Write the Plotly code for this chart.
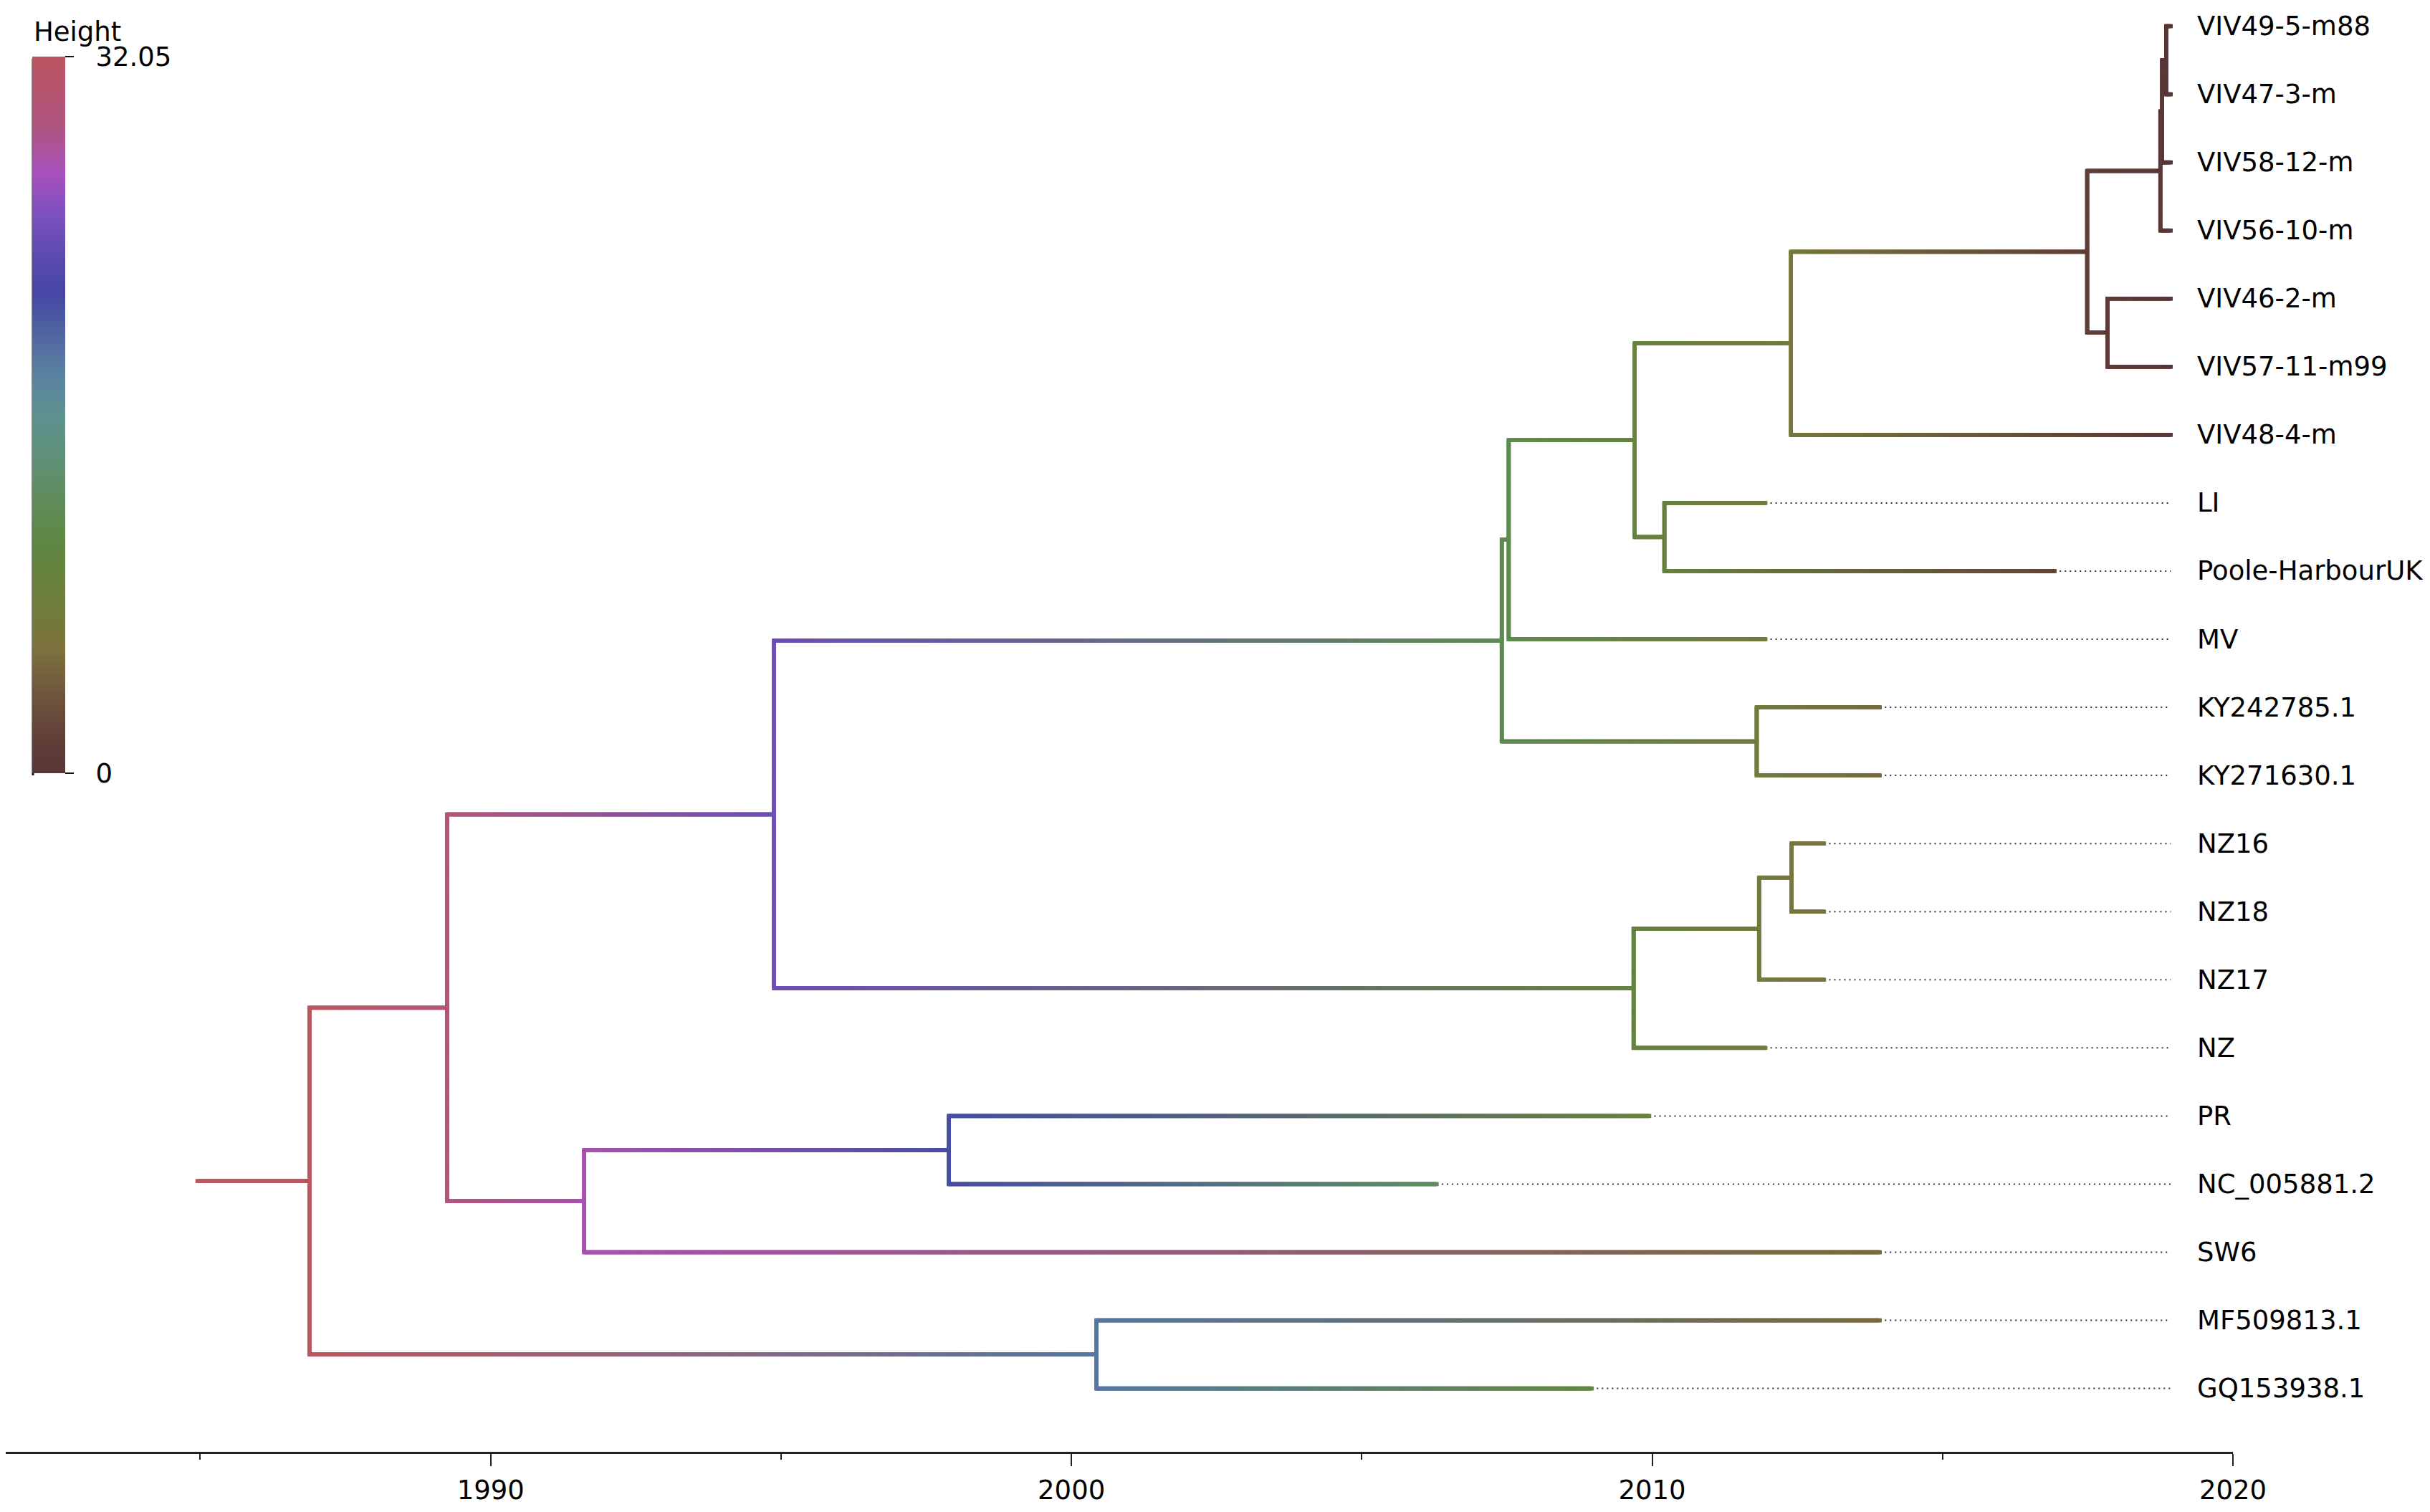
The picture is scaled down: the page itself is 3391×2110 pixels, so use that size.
import numpy as np
import plotly.graph_objects as go

# tips, listed top to bottom (decimal sampling dates)
leaf_names = ["VIV49-5-m88", "VIV47-3-m", "VIV58-12-m", "VIV56-10-m", "VIV46-2-m",
              "VIV57-11-m99", "VIV48-4-m", "LI", "Poole-HarbourUK", "MV",
              "KY242785.1", "KY271630.1", "NZ16", "NZ18", "NZ17", "NZ", "PR",
              "NC_005881.2", "SW6", "MF509813.1", "GQ153938.1"]
leaf_dates = [2018.93, 2018.93, 2018.93, 2018.93, 2018.93,
              2018.93, 2018.93, 2011.95, 2016.93, 2011.95,
              2013.92, 2013.92, 2012.96, 2012.96, 2012.96, 2011.95, 2009.95,
              2006.29, 2013.92, 2013.92, 2008.96]

# internal nodes (children listed before their parents)
node_names = ["n1", "n2", "n3", "n4", "n5", "n6", "n7", "n8", "n9", "n10",
              "n11", "n12", "n13", "n14", "n15", "n16", "n17", "n18", "n19", "root"]
node_children = [("VIV49-5-m88", "VIV47-3-m"), ("n1", "VIV58-12-m"), ("n2", "VIV56-10-m"),
                 ("VIV46-2-m", "VIV57-11-m99"), ("n3", "n4"), ("n5", "VIV48-4-m"),
                 ("LI", "Poole-HarbourUK"), ("n6", "n7"), ("KY242785.1", "KY271630.1"),
                 ("n8", "MV"), ("n10", "n9"), ("NZ16", "NZ18"), ("n12", "NZ17"),
                 ("n13", "NZ"), ("n11", "n14"), ("PR", "NC_005881.2"), ("n16", "SW6"),
                 ("n15", "n17"), ("MF509813.1", "GQ153938.1"), ("n18", "n19")]
node_dates = [2018.85, 2018.78, 2018.75, 2017.84, 2017.49, 2012.39, 2010.21, 2009.70,
              2011.80, 2007.53, 2007.41, 2012.40, 2011.84, 2009.68, 1994.88, 1997.89,
              1991.61, 1989.25, 2000.43, 1986.88]
root_stem_start = 1984.95

height_max = 32.05
x_ticks = [1990, 2000, 2010, 2020]
x_minor_ticks = [1985, 1995, 2005, 2015]

height_colors = [
    [0.00, "#5a3737"], [0.04, "#5f3c37"], [0.11, "#6e553c"], [0.175, "#7d733c"],
    [0.24, "#6e7d3c"], [0.32, "#5f8741"], [0.38, "#5f8c5a"], [0.44, "#5f9178"],
    [0.50, "#5f9191"], [0.556, "#5a82a0"], [0.615, "#5064a0"], [0.67, "#4646a5"],
    [0.72, "#5a4baf"], [0.78, "#7d50be"], [0.835, "#a550be"], [0.90, "#af5582"],
    [1.00, "#bd5560"],
]


def hex_rgb(h):
    return np.array([int(h[i:i + 2], 16) for i in (1, 3, 5)], dtype=float)


def height_rgb(h):
    f = min(max(h / height_max, 0.0), 1.0)
    for (f0, c0), (f1, c1) in zip(height_colors[:-1], height_colors[1:]):
        if f <= f1:
            t = (f - f0) / (f1 - f0)
            return hex_rgb(c0) * (1 - t) + hex_rgb(c1) * t
    return hex_rgb(height_colors[-1][1])


def rgb_str(c):
    return "rgb(%d,%d,%d)" % tuple(np.round(c))


latest = max(leaf_dates)
date_of = dict(zip(leaf_names, leaf_dates))
date_of.update(zip(node_names, node_dates))
ypos = {name: len(leaf_names) - 1 - i for i, name in enumerate(leaf_names)}
for name, kids in zip(node_names, node_children):
    ypos[name] = (ypos[kids[0]] + ypos[kids[1]]) / 2

# branches drawn as dense square markers; each branch fades from the
# parent's colour to the child's colour
xs, ys, cols = [], [], []


def hseg(x0, x1, y, c0, c1):
    n = max(2, int(abs(x1 - x0) / 0.015) + 1)
    for t, x in zip(np.linspace(0, 1, n), np.linspace(x0, x1, n)):
        xs.append(x)
        ys.append(y)
        cols.append(rgb_str(c0 * (1 - t) + c1 * t))


def vseg(x, y0, y1, c):
    n = max(2, int(abs(y1 - y0) / 0.015) + 1)
    xs.extend([x] * n)
    ys.extend(np.linspace(y0, y1, n))
    cols.extend([rgb_str(c)] * n)


for name, kids in zip(node_names, node_children):
    vseg(date_of[name], ypos[kids[0]], ypos[kids[1]], height_rgb(latest - date_of[name]))
for name, kids in zip(node_names, node_children):
    for k in kids:
        hseg(date_of[name], date_of[k], ypos[k],
             height_rgb(latest - date_of[name]), height_rgb(latest - date_of[k]))
root_col = height_rgb(latest - date_of["root"])
hseg(root_stem_start, date_of["root"], ypos["root"], root_col, root_col)

dx, dy = [], []
for name, d in zip(leaf_names, leaf_dates):
    if d < latest - 0.01:
        dx += [d, latest, None]
        dy += [ypos[name], ypos[name], None]

# the page adds an 8px body margin, so the figure is 16px smaller than the window
W, H = 3375, 2094
plot_w, plot_h = 3108, 2018

fig = go.Figure()
fig.add_trace(go.Scatter(
    x=dx, y=dy, mode="lines", hoverinfo="skip",
    line=dict(color="#333333", width=2, dash="2px,5px")))
fig.add_trace(go.Scatter(
    x=xs, y=ys, mode="markers", hoverinfo="skip", cliponaxis=False,
    marker=dict(symbol="square", size=5.5, color=cols, line=dict(width=0))))
# invisible trace only carrying the colour key
fig.add_trace(go.Scatter(
    x=[latest, latest], y=[0, 0], mode="markers", hoverinfo="skip",
    marker=dict(size=1, opacity=0, color=[0, height_max], cmin=0, cmax=height_max,
                colorscale=height_colors, showscale=True,
                colorbar=dict(
                    xref="container", yref="container",
                    x=37 / W, xanchor="left", y=1 - 74 / H, yanchor="top",
                    xpad=0, ypad=0, lenmode="pixels", len=1000,
                    thicknessmode="pixels", thickness=46,
                    outlinewidth=0, tickvals=[0, height_max],
                    ticktext=["\u00a0\u00a00", "\u00a0\u00a032.05"],
                    ticks="outside", ticklen=12, tickwidth=2, tickcolor="#111",
                    tickfont=dict(size=37, color="black")))))

for name in leaf_names:
    fig.add_annotation(x=2019.36, y=ypos[name], text=name, showarrow=False,
                       xanchor="left", yanchor="middle",
                       font=dict(size=37, color="black"))

fig.add_annotation(xref="paper", yref="paper", x=37 / W, y=(plot_h - 36) / plot_h,
                   text="Height", showarrow=False, xanchor="left", yanchor="middle",
                   font=dict(size=37, color="black"))
fig.add_shape(type="line", xref="paper", yref="paper",
              x0=38 / W, x1=38 / W, y0=(plot_h - 74) / plot_h, y1=(plot_h - 1074) / plot_h,
              line=dict(color="#111", width=3))

fig.update_layout(
    width=W, height=H,
    margin=dict(l=0, r=0, t=0, b=H - plot_h, autoexpand=False),
    plot_bgcolor="white", paper_bgcolor="white",
    font=dict(family="Verdana, DejaVu Sans, sans-serif", size=37, color="black"),
    showlegend=False,
    xaxis=dict(domain=[0, plot_w / W], range=[1981.65, 2020],
               showgrid=False, zeroline=False, showline=True, linewidth=3,
               linecolor="#222", ticks="outside", ticklen=17, tickwidth=2,
               tickcolor="#222", tickvals=x_ticks, ticklabelstandoff=2,
               tickfont=dict(size=37),
               minor=dict(tickvals=x_minor_ticks, ticks="outside", ticklen=8,
                          tickwidth=2, tickcolor="#222")),
    yaxis=dict(range=[-0.93, 20.3], visible=False, showgrid=False, zeroline=False),
)

fig.write_html("out.html")
